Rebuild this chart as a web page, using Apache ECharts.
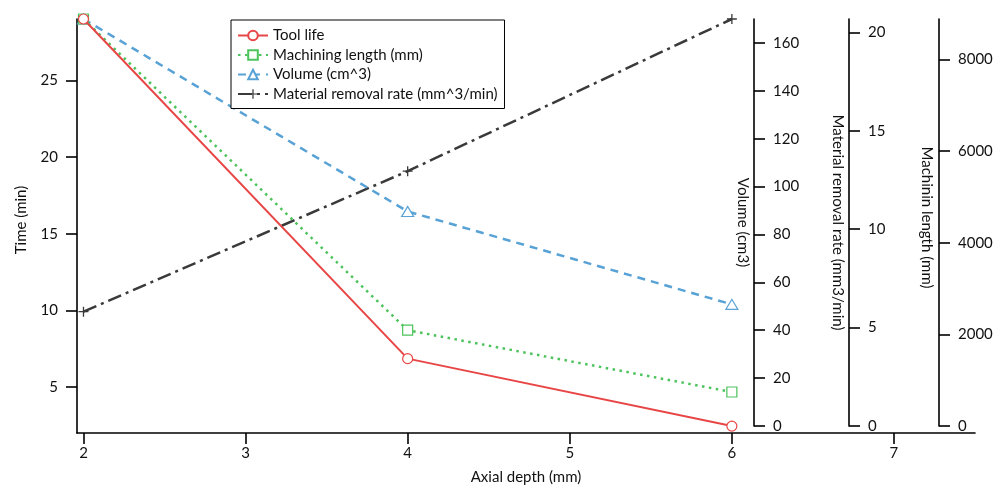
<!DOCTYPE html>
<html><head><meta charset="utf-8">
<script src="https://cdn.jsdelivr.net/npm/echarts@6/dist/echarts.min.js"></script>
<style>html,body{margin:0;padding:0;background:#fff}#c{width:1004px;height:489px}</style>
</head><body><div id="c"></div>
<script>
// ---- data ----
const depth = [2, 4, 6];
const toolLife = [29.0, 6.85, 2.45];
const machiningLength = [8880, 2090, 742];
const volume = [170, 89.6, 50.8];
const removalRate = [5.81, 12.95, 20.68];

const xTicks = [2, 3, 4, 5, 6, 7];
const timeTicks = [5, 10, 15, 20, 25];
const volumeTicks = [0, 20, 40, 60, 80, 100, 120, 140, 160];
const rateTicks = [0, 5, 10, 15, 20];
const lengthTicks = [0, 2000, 4000, 6000, 8000];

const seriesNames = ['Tool life', 'Machining length (mm)', 'Volume (cm^3)', 'Material removal rate (mm^3/min)'];
const axisNames = ['Axial depth (mm)', 'Time (min)', 'Volume (cm3)', 'Material removal rate (mm3/min)', 'Machinin length (mm)'];

// ---- styling ----
const FONT = 'Lato';
const TXT = { fontFamily: FONT, fontSize: 15, color: '#111' };
const RED = '#e84646', GREEN = '#4cc35b', BLUE = '#58a2d6', DARK = '#3a3a3a';
const PLUS = 'path://M0,4.35H10V5.65H0Z M4.35,0H5.65V10H4.35Z';

const pairs = vals => depth.map((d, i) => [d, vals[i]]);

const axLine = { show: true, lineStyle: { color: '#000', width: 1.6 } };
const tick = (vals) => ({ show: true, inside: false, length: 11, lineStyle: { color: '#000', width: 1.6 }, customValues: vals });
const lab = (vals, margin) => Object.assign({ customValues: vals, margin: margin, formatter: v => String(v) }, TXT);

function rightAxis(name, max, ticks, offset, gap, pad) {
  return {
    type: 'value', gridIndex: 1, position: 'right', offset: offset,
    min: 0, max: max,
    name: name, nameLocation: 'middle', nameRotate: -90, nameGap: gap, nameMoveOverlap: false,
    nameTextStyle: Object.assign({ padding: pad }, TXT),
    axisLine: axLine, axisTick: tick(ticks), axisLabel: lab(ticks, 19),
    splitLine: { show: false }
  };
}

const option = {
  animation: false,
  backgroundColor: '#fff',
  textStyle: { fontFamily: FONT },
  grid: [
    { left: 77, right: 29, top: 19, bottom: 56, containLabel: false, outerBoundsMode: 'none' },
    { left: 77, right: 29, top: 19, bottom: 63, containLabel: false, outerBoundsMode: 'none' }
  ],
  legend: {
    orient: 'vertical', left: 231, top: 20,
    data: seriesNames,
    itemWidth: 30, itemHeight: 12, itemGap: 4.5,
    padding: [8, 7, 7, 6],
    borderColor: '#000', borderWidth: 1, backgroundColor: '#fff',
    textStyle: TXT,
    selectedMode: false
  },
  xAxis: [
    {
      type: 'value', gridIndex: 0, min: 1.96, max: 7.5,
      name: axisNames[0], nameLocation: 'middle', nameGap: 37, nameMoveOverlap: false,
      nameTextStyle: TXT,
      axisLine: axLine, axisTick: tick(xTicks), axisLabel: lab(xTicks, 13),
      splitLine: { show: false }
    },
    { type: 'value', gridIndex: 1, min: 1.96, max: 7.5, show: false, splitLine: { show: false } }
  ],
  yAxis: [
    {
      type: 'value', gridIndex: 0, position: 'left', min: 2, max: 'dataMax',
      name: axisNames[1], nameLocation: 'middle', nameGap: 48, nameRotate: 90, nameMoveOverlap: false,
      nameTextStyle: Object.assign({ padding: [0, 0, 0, 12] }, TXT),
      axisLine: axLine, axisTick: tick(timeTicks), axisLabel: lab(timeTicks, 19),
      splitLine: { show: false }
    },
    rightAxis(axisNames[2], 'dataMax', volumeTicks, -221, -19, [0, 0, 0, 0]),
    rightAxis(axisNames[3], 'dataMax', rateTicks, -126, -19, [0, 0, 0, 0]),
    rightAxis(axisNames[4], 'dataMax', lengthTicks, -36, -20, [0, 10, 0, 0])
  ],
  series: [
    {
      name: seriesNames[0], type: 'line', xAxisIndex: 0, yAxisIndex: 0, data: pairs(toolLife),
      symbol: 'circle', symbolSize: 10, z: 5,
      lineStyle: { color: RED, width: 2 },
      itemStyle: { color: '#fff', borderColor: RED, borderWidth: 1.2 }
    },
    {
      name: seriesNames[1], type: 'line', xAxisIndex: 1, yAxisIndex: 3, data: pairs(machiningLength),
      symbol: 'rect', symbolSize: 10, z: 4,
      lineStyle: { color: GREEN, width: 2.5, type: [2.5, 4.5] },
      itemStyle: { color: '#fff', borderColor: GREEN, borderWidth: 1.2 }
    },
    {
      name: seriesNames[2], type: 'line', xAxisIndex: 1, yAxisIndex: 1, data: pairs(volume),
      symbol: 'triangle', symbolSize: [12, 10], z: 3,
      lineStyle: { color: BLUE, width: 2.5, type: [8, 6] },
      itemStyle: { color: '#fff', borderColor: BLUE, borderWidth: 1.2 }
    },
    {
      name: seriesNames[3], type: 'line', xAxisIndex: 1, yAxisIndex: 2, data: pairs(removalRate),
      symbol: PLUS, symbolSize: 10, z: 2,
      lineStyle: { color: DARK, width: 2.5, type: [14, 5, 3, 5] },
      itemStyle: { color: DARK, borderWidth: 0 }
    }
  ]
};

const chart = echarts.init(document.getElementById('c'), null, { renderer: 'canvas' });
chart.setOption(option);
</script>
</body></html>
